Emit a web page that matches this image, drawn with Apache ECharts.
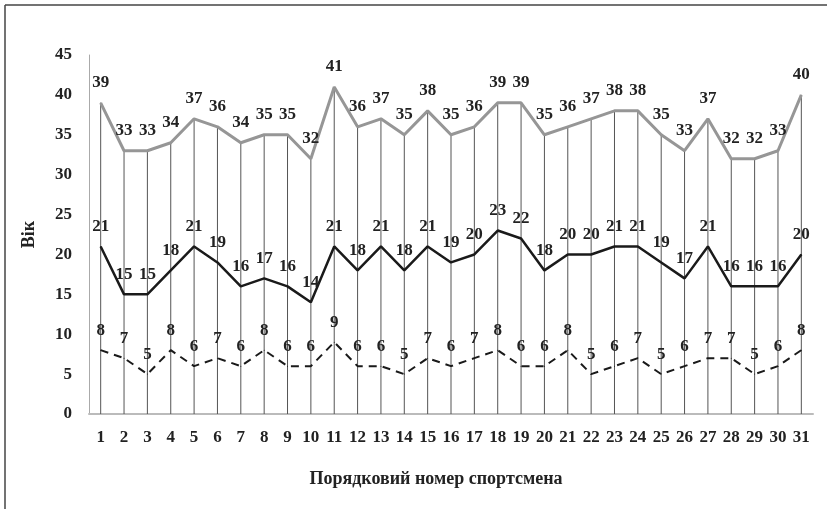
<!DOCTYPE html>
<html>
<head>
<meta charset="utf-8">
<script src="https://cdn.jsdelivr.net/npm/echarts@6/dist/echarts.min.js"></script>
<style>
html,body{margin:0;padding:0;background:#fff;}
#c{width:827px;height:509px;}
</style>
</head>
<body>
<div id="c"></div>
<script>
var categories = ['1','2','3','4','5','6','7','8','9','10','11','12','13','14','15','16','17','18','19','20','21','22','23','24','25','26','27','28','29','30','31'];
var upperValues = [39,33,33,34,37,36,34,35,35,32,41,36,37,35,38,35,36,39,39,35,36,37,38,38,35,33,37,32,32,33,40];
var middleValues = [21,15,15,18,21,19,16,17,16,14,21,18,21,18,21,19,20,23,22,18,20,20,21,21,19,17,21,16,16,16,20];
var lowerValues = [8,7,5,8,6,7,6,8,6,6,9,6,6,5,7,6,7,8,6,6,8,5,6,7,5,6,7,7,5,6,8];
var yTicks = {min: 0, max: 45, interval: 5};
var xName = 'Порядковий номер спортсмена';
var yName = 'Вік';

var font = '"Liberation Serif","Times New Roman",serif';
var labelStyle = {show: true, position: 'top', distance: 11, color: '#222', fontFamily: font, fontWeight: 'bold', fontSize: 17};

var chart = echarts.init(document.getElementById('c'), null, {renderer: 'canvas'});
chart.setOption({
  animation: false,
  backgroundColor: '#fff',
  graphic: [
    {type: 'line', shape: {x1: 5, y1: 5, x2: 827, y2: 5}, style: {stroke: '#444', lineWidth: 1.5}},
    {type: 'line', shape: {x1: 5, y1: 5, x2: 5, y2: 509}, style: {stroke: '#444', lineWidth: 1.5}}
  ],
  grid: {left: 89, right: 14, top: 55, bottom: 95, containLabel: false},
  xAxis: {
    type: 'category',
    data: categories,
    boundaryGap: true,
    name: xName,
    nameLocation: 'middle',
    nameGap: 56,
    nameTextStyle: {fontFamily: font, fontWeight: 'bold', fontSize: 18, color: '#222', padding: [0, 30, 0, 0]},
    axisLine: {show: true, lineStyle: {color: '#bbb', width: 2}},
    axisTick: {show: false},
    axisLabel: {fontFamily: font, fontWeight: 'bold', fontSize: 17, color: '#222', margin: 15, interval: 0},
    splitLine: {show: false}
  },
  yAxis: {
    type: 'value',
    min: yTicks.min, max: yTicks.max, interval: yTicks.interval,
    name: yName,
    nameLocation: 'middle',
    nameGap: 51,
    nameRotate: 90,
    nameTextStyle: {fontFamily: font, fontWeight: 'bold', fontSize: 18, color: '#222'},
    axisLine: {show: true, lineStyle: {color: '#aaa', width: 1}},
    axisTick: {show: false},
    axisLabel: {fontFamily: font, fontWeight: 'bold', fontSize: 17, color: '#222', margin: 17},
    splitLine: {show: false}
  },
  series: [
    {
      type: 'bar',
      data: upperValues,
      barWidth: 1,
      itemStyle: {color: '#555'},
      silent: true,
      z: 1
    },
    {
      type: 'line',
      data: upperValues,
      symbol: 'circle', symbolSize: 1,
      itemStyle: {color: '#969696'},
      lineStyle: {color: '#969696', width: 3},
      label: labelStyle,
      z: 3
    },
    {
      type: 'line',
      data: middleValues,
      symbol: 'circle', symbolSize: 1,
      itemStyle: {color: '#1a1a1a'},
      lineStyle: {color: '#1a1a1a', width: 2.5},
      label: labelStyle,
      z: 3
    },
    {
      type: 'line',
      data: lowerValues,
      symbol: 'circle', symbolSize: 1,
      itemStyle: {color: '#1a1a1a'},
      lineStyle: {color: '#1a1a1a', width: 2, type: [8, 6]},
      label: labelStyle,
      z: 3
    }
  ]
});
</script>
</body>
</html>
